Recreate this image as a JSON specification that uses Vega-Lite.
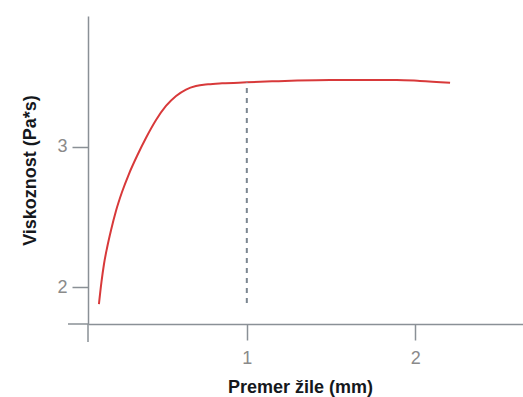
{
  "$schema": "https://vega.github.io/schema/vega-lite/v6.json",
  "width": 435,
  "height": 308,
  "autosize": "none",
  "padding": {"left": 88, "top": 16, "right": 0, "bottom": 73},
  "background": "white",
  "config": {"view": {"stroke": null}},
  "datasets": {
    "curve": [
      {"d": 0.122, "v": 1.881},
      {"d": 0.137, "v": 2.038},
      {"d": 0.152, "v": 2.166},
      {"d": 0.17, "v": 2.28},
      {"d": 0.194, "v": 2.408},
      {"d": 0.223, "v": 2.543},
      {"d": 0.259, "v": 2.678},
      {"d": 0.3, "v": 2.806},
      {"d": 0.348, "v": 2.934},
      {"d": 0.401, "v": 3.062},
      {"d": 0.461, "v": 3.19},
      {"d": 0.52, "v": 3.29},
      {"d": 0.58, "v": 3.361},
      {"d": 0.639, "v": 3.407},
      {"d": 0.698, "v": 3.432},
      {"d": 0.77, "v": 3.444},
      {"d": 0.853, "v": 3.451},
      {"d": 0.999, "v": 3.458},
      {"d": 1.15, "v": 3.465},
      {"d": 1.3, "v": 3.471},
      {"d": 1.494, "v": 3.475},
      {"d": 1.89, "v": 3.475},
      {"d": 2.028, "v": 3.468},
      {"d": 2.207, "v": 3.455}
    ],
    "one": [{"k": 1}]
  },
  "layer": [
    {
      "data": {"name": "curve"},
      "mark": {"type": "line", "color": "#d8393a", "strokeWidth": 2, "interpolate": "monotone"},
      "encoding": {
        "x": {
          "field": "d", "type": "quantitative",
          "scale": {"domain": [0.057, 2.64], "nice": false, "zero": false},
          "axis": {
            "values": [1, 2], "format": "d", "grid": false,
            "domainColor": "#8a9096", "domainWidth": 1.5,
            "tickColor": "#8a9096", "tickWidth": 1.5, "tickSize": 16,
            "labelFont": "Liberation Sans", "labelFontSize": 18, "labelColor": "#8a8a8a", "labelPadding": 9,
            "title": "Premer žile (mm)", "titleFont": "Liberation Sans", "titleFontSize": 18,
            "titleFontWeight": "bold", "titleColor": "#15181c",
            "titleX": 212, "titleY": 63, "titleAlign": "center", "titleBaseline": "middle", "titleAnchor": null
          }
        },
        "y": {
          "field": "v", "type": "quantitative",
          "scale": {"domain": [1.739, 3.93], "nice": false, "zero": false},
          "axis": {
            "values": [2, 3], "format": "d", "grid": false,
            "domainColor": "#8a9096", "domainWidth": 1.5,
            "tickColor": "#8a9096", "tickWidth": 1.5, "tickSize": 16,
            "labelFont": "Liberation Sans", "labelFontSize": 18, "labelColor": "#8a8a8a", "labelPadding": 5,
            "title": "Viskoznost (Pa*s)", "titleFont": "Liberation Sans", "titleFontSize": 18,
            "titleFontWeight": "bold", "titleColor": "#15181c", "titleAngle": -90,
            "titleX": -58, "titleY": 154, "titleAlign": "center", "titleBaseline": "middle", "titleAnchor": null
          }
        }
      }
    },
    {
      "data": {"name": "one"},
      "mark": {"type": "rule", "color": "#7b8690", "strokeWidth": 2, "strokeDash": [5, 5]},
      "encoding": {
        "x": {"datum": 1},
        "y": {"datum": 1.888},
        "y2": {"datum": 3.458}
      }
    },
    {
      "data": {"name": "one"},
      "mark": {"type": "rule", "color": "#8a9096", "strokeWidth": 1.5},
      "encoding": {
        "x": {"datum": 0.057},
        "y": {"datum": 1.611},
        "y2": {"datum": 1.739}
      }
    },
    {
      "data": {"name": "one"},
      "mark": {"type": "rule", "color": "#8a9096", "strokeWidth": 1.5},
      "encoding": {
        "x": {"datum": -0.062},
        "x2": {"datum": 0.057},
        "y": {"datum": 1.739}
      }
    }
  ]
}
